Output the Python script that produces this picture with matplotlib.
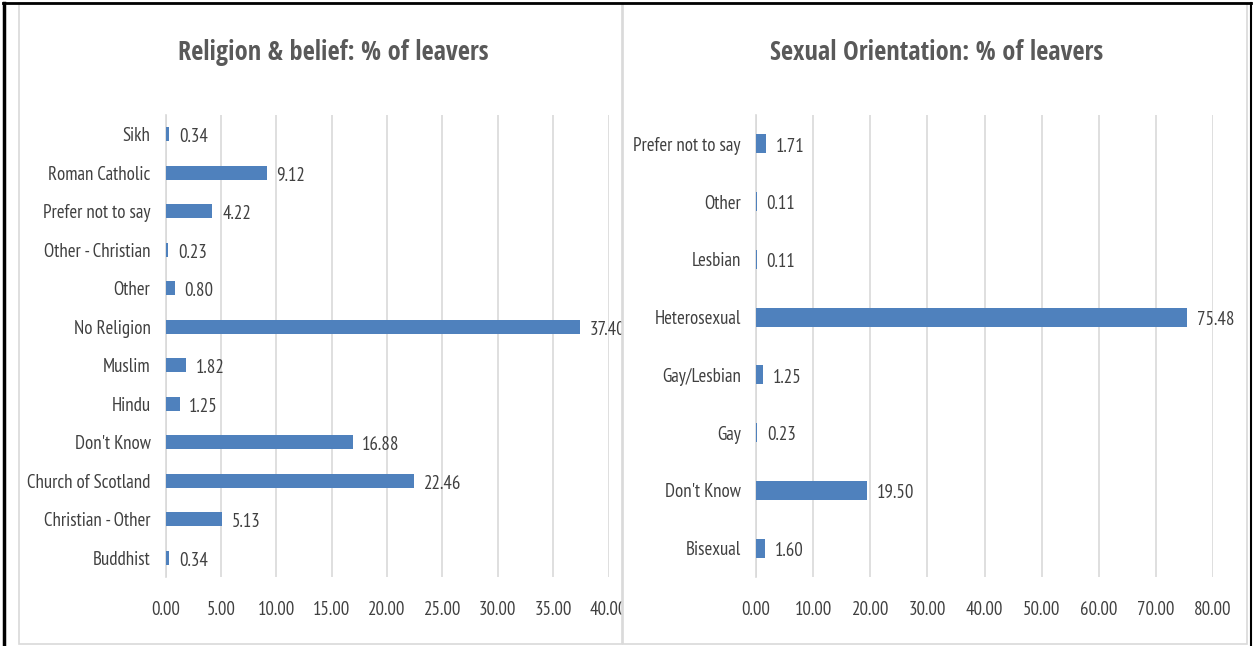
import matplotlib
matplotlib.use("Agg")
from matplotlib import pyplot as plt
from matplotlib.patches import Rectangle
from matplotlib.lines import Line2D
from matplotlib.transforms import Bbox, TransformedBbox

plt.rcParams['font.family'] = ['PT Sans Narrow', 'DejaVu Sans']

# religion & belief, bottom to top
religions = ["Buddhist", "Christian - Other", "Church of Scotland", "Don't Know", "Hindu",
             "Muslim", "No Religion", "Other", "Other - Christian", "Prefer not to say",
             "Roman Catholic", "Sikh"]
religion_pct = [0.34, 5.13, 22.46, 16.88, 1.25, 1.82, 37.40, 0.80, 0.23, 4.22, 9.12, 0.34]

# sexual orientation, bottom to top
orientations = ["Bisexual", "Don't Know", "Gay", "Gay/Lesbian", "Heterosexual",
                "Lesbian", "Other", "Prefer not to say"]
orientation_pct = [1.60, 19.50, 0.23, 1.25, 75.48, 0.11, 0.11, 1.71]

W, H = 1253, 646
fig = plt.figure(figsize=(W / 100, H / 100), dpi=100)

BLUE = "#4f81bd"
TEXT = "#404040"
GRID = "#d9d9d9"
LABEL_SIZE = 13.6


def px(x0, y0, x1, y1):
    # pixel box (top-left origin) -> figure fraction [left, bottom, width, height]
    return [x0 / W, 1 - y1 / H, (x1 - x0) / W, (y1 - y0) / H]


# panel frames
for x0, x1 in [(19, 622), (623, 1247)]:
    fig.patches.append(Rectangle((x0 / W, 1 - 644 / H), (x1 - x0) / W, 641 / H,
                                 transform=fig.transFigure, fill=False,
                                 edgecolor=GRID, linewidth=1.2))
# outer dark edges
fig.lines.append(Line2D([3 / W, 1251 / W], [1 - 3 / H, 1 - 3 / H], transform=fig.transFigure,
                        color="black", linewidth=2))
fig.lines.append(Line2D([4 / W, 4 / W], [0, 1 - 3 / H], transform=fig.transFigure,
                        color="black", linewidth=2.5))
fig.lines.append(Line2D([1251 / W, 1251 / W], [0, 1 - 3 / H], transform=fig.transFigure,
                        color="black", linewidth=1.5))

left_clip = TransformedBbox(Bbox([[0, 0], [622 / W, 1]]), fig.transFigure)


def draw_panel(rect, cats, vals, xmax, step, bar_h, title, title_x, clip=None):
    ax = fig.add_axes(rect)
    ypos = range(len(cats))
    ax.barh(ypos, vals, height=bar_h, color=BLUE, zorder=3)
    ax.set_xlim(0, xmax)
    ax.set_ylim(-0.5, len(cats) - 0.5)
    ax.set_xticks([i * step for i in range(int(xmax / step) + 1)])
    ax.set_xticklabels(["%.2f" % t for t in ax.get_xticks()])
    ax.set_yticks(list(ypos))
    ax.set_yticklabels(cats)
    ax.grid(axis="x", color=GRID, linewidth=1.2, zorder=0)
    for s in ["top", "right", "bottom"]:
        ax.spines[s].set_visible(False)
    ax.spines["left"].set_color(GRID)
    ax.spines["left"].set_linewidth(1.2)
    ax.tick_params(axis="both", length=0, labelsize=LABEL_SIZE, colors=TEXT)
    ax.tick_params(axis="x", pad=17)
    ax.tick_params(axis="y", pad=11)
    for y, v in zip(ypos, vals):
        t = ax.annotate("%.2f" % v, (v, y), xytext=(7, -2), textcoords="offset points",
                        va="center", ha="left", fontsize=LABEL_SIZE, color=TEXT,
                        annotation_clip=False)
        if clip is not None:
            t.set_clip_box(clip)
            t.set_clip_on(True)
    if clip is not None:
        for lab in ax.get_xticklabels():
            lab.set_clip_box(clip)
            lab.set_clip_on(True)
    fig.text(title_x / W, 1 - 53 / H, title, ha="center", va="center",
             fontsize=19, fontweight="bold", color="#595959",
             family=["Open Sans Condensed", "DejaVu Sans"])
    return ax


draw_panel(px(165.7, 115, 608.5, 577), religions, religion_pct, 40, 5, 0.37,
           "Religion & belief: % of leavers", 333, clip=left_clip)
draw_panel(px(756, 115, 1213, 577), orientations, orientation_pct, 80, 10, 0.33,
           "Sexual Orientation: % of leavers", 937)

fig.savefig("out.png", dpi=100)
